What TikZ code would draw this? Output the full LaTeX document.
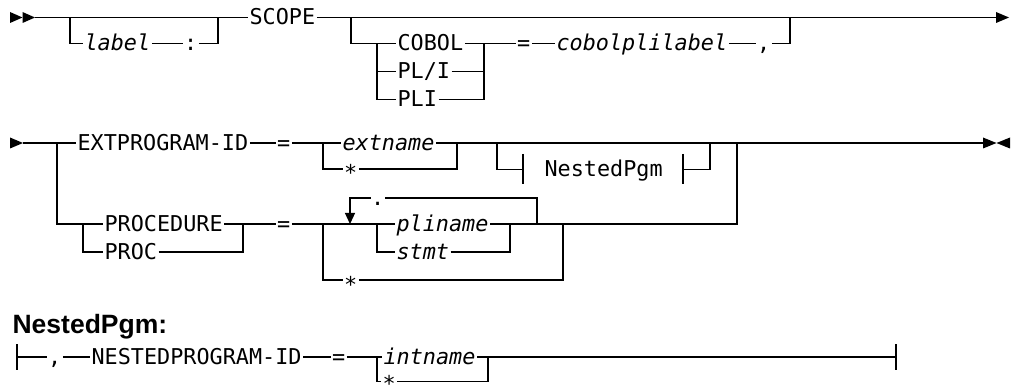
\documentclass[tikz,border=0pt]{standalone}
\usepackage{fontspec}
\usetikzlibrary{arrows.meta}
\newfontfamily\monofnt{DejaVu Sans Mono}
\newfontfamily\headfnt{Liberation Sans}
\newcommand\lowstar{\raisebox{-4.5pt}{*}}
\newcommand\midstar{\raisebox{-2.5pt}{*}}
\begin{document}
\begin{tikzpicture}[x=1pt,y=-1pt,line width=1.2pt,
  kw/.style={font={\monofnt\fontsize{21.8}{24}\selectfont}, inner xsep=1pt, inner ysep=0pt, text height=15pt, text depth=0pt, anchor=west},
  var/.style={kw, font={\monofnt\itshape\fontsize{21.8}{24}\selectfont}},
  cell/.style={kw, inner xsep=0pt},
  head/.style={font={\headfnt\bfseries\fontsize{26.5}{30}\selectfont}, inner sep=0pt, anchor=base west},
  tip/.style={fill=black, draw=none},
  loopline/.style={-{Triangle[length=11pt,width=10pt]}}]
\path[use as bounding box] (0,0) rectangle (1011,387);

% ---------------- Row 1 ----------------
\fill[tip] (10,12) -- (22.5,17.5) -- (10,23) -- cycle;
\fill[tip] (22.5,12) -- (35,17.5) -- (22.5,23) -- cycle;
\coordinate (s1) at (35,17.5);
\coordinate (b1a) at (70,17.5);
\coordinate (b1b) at (218,17.5);
\node[var] (label) at (83,43.5) {label};
\node[kw] (colon) at (182.5,43.5) {:};
\node[kw] (scope) at (248,17.5) {SCOPE};
\coordinate (b2a) at (351,17.5);
\coordinate (b3) at (377,43.5);
\node[kw] (cobol) at (396,43.5) {COBOL};
\node[kw] (plone) at (396,71.5) {PL/I};
\node[kw] (pli) at (396,99.5) {PLI};
\coordinate (c1) at (484,43.5);
\node[kw] (eqa) at (515.5,43.5) {=};
\node[var] (cbl) at (555,43.5) {cobolplilabel};
\node[kw] (comma) at (755.5,43.5) {,};
\coordinate (j1) at (790,17.5);
\coordinate (e1) at (996,17.5);
\fill[tip] (996,12) -- (1009,17.5) -- (996,23) -- cycle;

\draw (s1) -- (scope.west);
\draw (b1a) |- (label.west);
\draw (label.east) -- (colon.west);
\draw (colon.east) -| (b1b);
\draw (scope.east) -- (e1);
\draw (b2a) |- (cobol.west);
\draw (b3) |- (plone.west);
\draw (b3) |- (pli.west);
\draw (cobol.east) -- (c1);
\draw (plone.east) -| (c1);
\draw (pli.east) -| (c1);
\draw (c1) -- (eqa.west);
\draw (eqa.east) -- (cbl.west);
\draw (cbl.east) -- (comma.west);
\draw (comma.east) -| (j1);

% ---------------- Row 2 ----------------
\fill[tip] (10,137.5) -- (23,143) -- (10,148.5) -- cycle;
\coordinate (s2) at (23,143);
\coordinate (b4) at (57,143);
\node[kw] (ext) at (76,143) {EXTPROGRAM-ID};
\node[kw] (eqb) at (275.5,143) {=};
\coordinate (b5) at (323,143);
\node[var] (extname) at (341,143) {extname};
\node[kw] (stara) at (342.5,169) {\lowstar};
\coordinate (j5t) at (457,143);
\coordinate (b6) at (497,143);
\coordinate (np1) at (523,169.5);
\node[kw] (npg) at (543,169.5) {NestedPgm};
\coordinate (np2) at (683,169.5);
\coordinate (j6) at (710,143);
\coordinate (j7) at (737,143);
\coordinate (e2) at (983,143);
\fill[tip] (983,137.5) -- (996.5,143) -- (983,148.5) -- cycle;
\fill[tip] (1010,137.5) -- (996.5,143) -- (1010,148.5) -- cycle;

\node[kw] (proc) at (103,224) {PROCEDURE};
\node[kw] (procs) at (103,252) {PROC};
\coordinate (b8) at (83,224);
\coordinate (j8) at (243,224);
\node[kw] (eqc) at (275.5,224) {=};
\coordinate (b9) at (323,224);
\coordinate (l1) at (350,224);
\coordinate (b10) at (377,224);
\node[var] (pliname) at (395,224) {pliname};
\node[var] (stmt) at (395,252) {stmt};
\coordinate (j10) at (510,224);
\coordinate (l2) at (537,224);
\node[cell] (dot) at (370.5,198) {.};
\coordinate (j11) at (563,224);
\node[kw] (starb) at (342.5,280) {\lowstar};

\draw (s2) -- (ext.west);
\draw (ext.east) -- (eqb.west);
\draw (eqb.east) -- (extname.west);
\draw (extname.east) -- (e2);
\draw (b5) |- (stara.west);
\draw (stara.east) -| (j5t);
\draw (b6) |- (np1);
\draw (523,154) -- (523,184);
\draw (np2) -| (j6);
\draw (683,154) -- (683,184);
\draw (b4) |- (proc.west);
\draw (b8) |- (procs.west);
\draw (proc.east) -- (eqc.west);
\draw (procs.east) -| (j8);
\draw (eqc.east) -- (pliname.west);
\draw (b10) |- (stmt.west);
\draw (stmt.east) -| (j10);
\draw (pliname.east) -| (j7);
\draw (l2) |- (dot.east);
\draw[loopline] (dot.west) -| (l1);
\draw (b9) |- (starb.west);
\draw (starb.east) -| (j11);

% ---------------- NestedPgm ----------------
\node[head] (nphead) at (12,333) {NestedPgm:};
\coordinate (s3) at (17,357);
\draw (17,344) -- (17,370);
\node[kw] (commab) at (46.5,357) {,};
\node[kw] (nest) at (90,357) {NESTEDPROGRAM-ID};
\node[kw] (eqd) at (330.5,357) {=};
\coordinate (b11) at (377,357);
\node[var] (intname) at (382,357) {intname};
\node[kw] (starc) at (381,381.5) {\midstar};
\coordinate (j12) at (488,357);
\coordinate (e3) at (896,357);
\draw (896,344) -- (896,370);

\draw (s3) -- (commab.west);
\draw (commab.east) -- (nest.west);
\draw (nest.east) -- (eqd.west);
\draw (eqd.east) -- (intname.west);
\draw (intname.east) -- (e3);
\draw (b11) |- (starc.west);
\draw (starc.east) -| (j12);
\end{tikzpicture}
\end{document}
